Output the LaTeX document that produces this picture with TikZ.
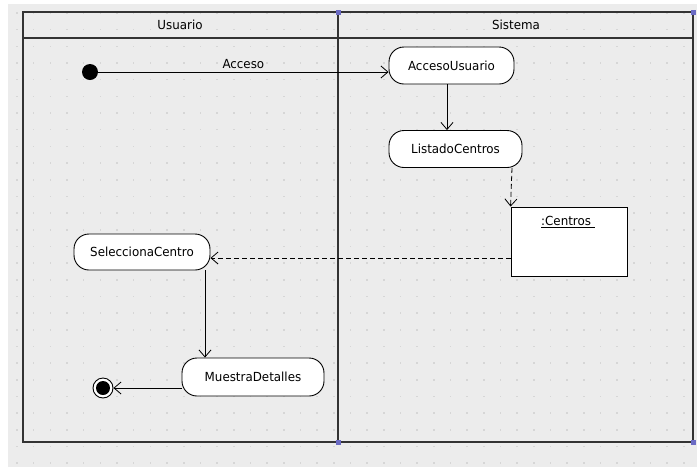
\documentclass[tikz,border=0pt]{standalone}
\usepackage{fontspec}
\setmainfont{DejaVu Sans}[FakeStretch=0.95]
\usetikzlibrary{arrows.meta}
\definecolor{bgg}{HTML}{ECECEC}
\definecolor{framec}{HTML}{333333}
\definecolor{handle}{HTML}{6B6BC4}
\definecolor{dotc}{HTML}{D6D6D6}
\tikzset{
  act/.style={draw=black, fill=white, rounded corners=15pt, line width=0.9pt,
    minimum height=37pt, inner sep=0pt, font=\fontsize{12.5}{14}\selectfont},
  flow/.style={draw=black, line width=0.8pt, -{Straight Barb[length=7pt,width=12pt,line width=0.8pt]}},
  objflow/.style={flow, dash pattern=on 5pt off 3pt},
  lane/.style={draw=framec, line width=1.6pt},
  hdl/.style={fill=handle, draw=none, minimum size=5pt, inner sep=0pt},
  lbl/.style={font=\fontsize{12.5}{14}\selectfont, inner sep=1pt}
}
\begin{document}
\begin{tikzpicture}[x=1pt,y=-1pt]
\useasboundingbox (0,0) rectangle (697,467);
\fill[white] (0,0) rectangle (697,467);
\fill[bgg] (8,4) rectangle (697,467);
% dot grid
\foreach \i in {0,...,40} {
  \foreach \j in {0,...,27} {
    \fill[dotc] ({17+\i*16.67-0.8},{13+\j*16.67-0.8}) rectangle ++(1.6,1.6);
  }
}
% swimlanes
\draw[lane] (23,12) rectangle (693,442);
\draw[lane] (23,38) -- (693,38);
\draw[lane] (338,12) -- (338,442);
\node[lbl] (hu) at (180,25) {Usuario};
\node[lbl] (hs) at (516,25) {Sistema};
\node[hdl] (h1) at (338,12) {};
\node[hdl] (h2) at (693,12) {};
\node[hdl] (h3) at (338,442) {};
\node[hdl] (h4) at (693,442) {};
% nodes
\node[circle, fill=black, minimum size=16pt, inner sep=0pt] (init) at (90,72) {};
\node[act, minimum width=125pt] (acc) at (451.5,65.5) {AccesoUsuario};
\node[act, minimum width=133pt] (lst) at (455.5,149) {ListadoCentros};
\node[draw=black, fill=white, line width=0.9pt, minimum width=116pt, minimum height=69pt, inner sep=0pt] (cen) at (569,241.5) {};
\node[lbl, anchor=north] (cenl) at (568,215) {\underline{:Centros\ }};
\node[act, minimum width=136pt, minimum height=36pt] (sel) at (142,252) {SeleccionaCentro};
\node[act, minimum width=142pt, minimum height=38pt] (mue) at (253,377) {MuestraDetalles};
\node[circle, draw=black, fill=white, line width=0.9pt, minimum size=20pt, inner sep=0pt] (fin) at (103,388) {};
\fill[black] (fin.center) circle (7pt);
% connectors
\draw[flow] (init.east) -- (init.east -| acc.west) node[lbl, pos=0.5, above=2pt] {Acceso};
\draw[flow] (acc.south -| 447,0) -- (lst.north -| 447,0);
\draw[objflow] (lst.south -| 512,0) -- (cen.north west);
\draw[objflow] (cen.west |- 0,258) -- (sel.east |- 0,258);
\draw[flow] (sel.south -| 205,0) -- (mue.north -| 205,0);
\draw[flow] (mue.west |- 0,388) -- (fin.east);
\end{tikzpicture}
\end{document}
